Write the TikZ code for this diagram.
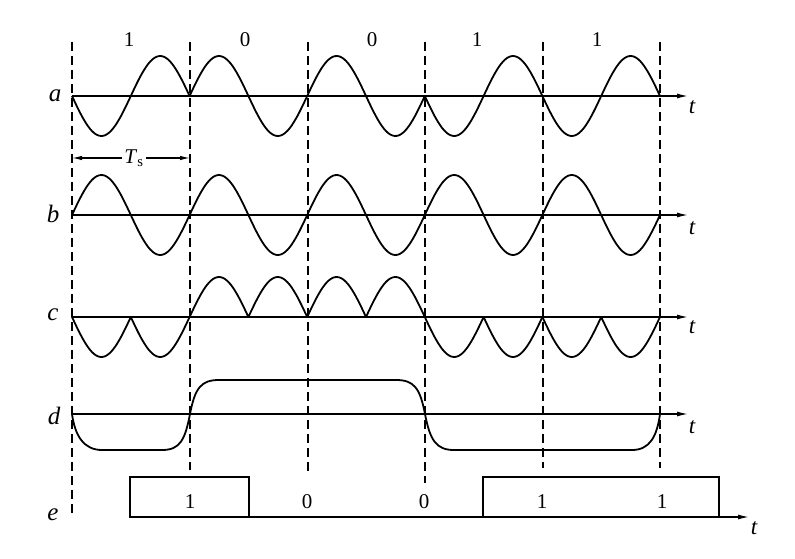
\documentclass[tikz,border=0pt]{standalone}
\usepackage{fontspec}
\setmainfont{Liberation Serif}
\usetikzlibrary{arrows.meta}
\begin{document}
\begin{tikzpicture}[x=1pt,y=-1pt,
  wave/.style={line width=1.8pt, line join=round},
  axisline/.style={line width=1.3pt, -{Latex[length=11pt,width=5pt]}},
  guide/.style={line width=1.5pt, dash pattern=on 9pt off 5pt},
  rowlab/.style={font=\fontsize{25}{27}\selectfont\itshape, inner sep=0pt},
  tlab/.style={font=\fontsize{23}{25}\selectfont\itshape, inner sep=0pt},
  bitlab/.style={font=\fontsize{21}{23}\selectfont, inner sep=0pt},
  boxline/.style={line width=1.5pt}]
\useasboundingbox (0,0) rectangle (795,559);
% guide lines
\foreach \x/\e in {72/517,190/470,308/472,425/483,543/468,660/468}{
  \coordinate (gt\x) at (\x,42);
  \coordinate (gb\x) at (\x,\e);
  \draw[guide] (gt\x) -- (gb\x);
}
% bit labels
\node[bitlab] (b1) at (129,40) {1};
\node[bitlab] (b2) at (245,40) {0};
\node[bitlab] (b3) at (372,40) {0};
\node[bitlab] (b4) at (477,40) {1};
\node[bitlab] (b5) at (597,40) {1};
% axes
\foreach \n/\y/\ty in {a/96/107,b/215/228,c/317/327,d/414/427}{
  \coordinate (\n0) at (72,\y);
  \coordinate (\n1) at (688,\y);
  \draw[axisline] (\n0) -- (\n1);
  \node[tlab] (t\n) at (692,\ty) {t};
}
\node[rowlab] (la) at (55,96) {a};
\node[rowlab] (lb) at (53,214) {b};
\node[rowlab] (lc) at (53,315) {c};
\node[rowlab] (ld) at (54,416) {d};
\node[rowlab] (le) at (53,515) {e};
% Ts
\coordinate (ts0) at (72,158);
\coordinate (ts1) at (190,158);
\draw[line width=1.2pt, {Latex[length=10pt,width=4.5pt]}-{Latex[length=10pt,width=4.5pt]}] (ts0) -- node[fill=white, inner sep=2pt, font=\fontsize{21}{23}\selectfont, xshift=3pt] (tsl) {\textit{T}\textsubscript{s}} (ts1);
% wave a
\foreach \i/\s in {0/-1,1/1,2/1,3/-1,4/-1}{
  \draw[wave] plot[domain=0:1,samples=61] ({72+117.6*(\i+\x)},{96-40*(\s)*sin(360*\x)});
}
% wave b
\draw[wave] plot[domain=0:5,samples=301] ({72+117.6*\x},{215-40*sin(360*\x)});
% wave c
\foreach \i/\s in {0/-1,1/1,2/1,3/-1,4/-1}{
  \draw[wave] plot[domain=0:1,samples=61] ({72+117.6*(\i+\x)},{317-40*(\s)*abs(sin(360*\x))});
}
% wave d
\draw[wave] (72,414) .. controls (75,436) and (84,450) .. (102,450) -- (162,450)
  .. controls (180,450) and (185,440) .. (190,414)
  .. controls (195,388) and (201,380) .. (219,380) -- (396,380)
  .. controls (414,380) and (420,388) .. (425,414)
  .. controls (430,440) and (436,450) .. (454,450) -- (632,450)
  .. controls (650,450) and (657,436) .. (660,414);
% e
\coordinate (e0) at (130,517);
\coordinate (e1) at (749,517);
\draw[axisline] (e0) -- (e1);
\node[tlab] (te) at (754,528) {t};
\draw[boxline] (130,477) rectangle (249,517);
\draw[boxline] (483,477) rectangle (719,517);
\node[bitlab] (e1l) at (190,502) {1};
\node[bitlab] (e2l) at (307,502) {0};
\node[bitlab] (e3l) at (424,502) {0};
\node[bitlab] (e4l) at (542,502) {1};
\node[bitlab] (e5l) at (662,502) {1};
\end{tikzpicture}
\end{document}
